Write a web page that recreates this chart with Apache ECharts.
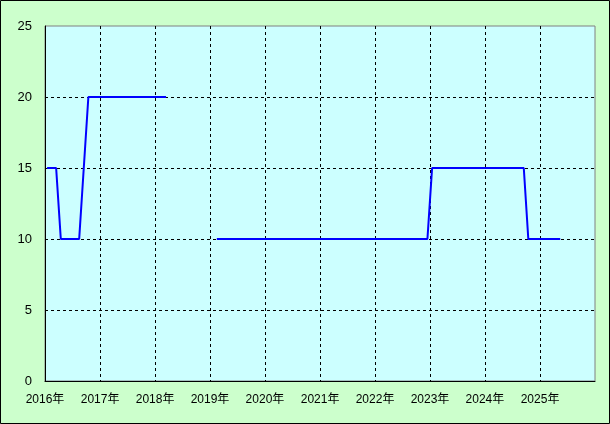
<!DOCTYPE html>
<html>
<head>
<meta charset="utf-8">
<script src="https://cdn.jsdelivr.net/npm/echarts@6/dist/echarts.min.js"></script>
<style>
html,body{margin:0;padding:0;background:#ccffcc;}
#chart{width:610px;height:424px;}
</style>
</head>
<body>
<div id="chart"></div>
<script>
// Data (monthly points, mid-month)
const dates  = ['2016-01-15','2016-03-15','2016-04-15','2016-08-15','2016-10-15','2018-03-15','2018-09-15','2019-02-15','2022-12-15','2023-01-15','2024-09-15','2024-10-15','2025-05-15'];
const values = [15, 15, 10, 10, 20, 20, null, 10, 10, 15, 15, 10, 10];
const yTicks = [0, 5, 10, 15, 20, 25];
const xStart = '2016-01-01';
const xEnd = '2026-01-01';
const yearSuffix = '年';

const chart = echarts.init(document.getElementById('chart'), null, {renderer: 'canvas'});
const seriesData = dates.map((d, i) => [d, values[i] === null ? '-' : values[i]]);
const YEAR = 365.25 * 24 * 3600 * 1000;

chart.setOption({
  backgroundColor: '#ccffcc',
  animation: false,
  grid: {
    left: 45, top: 26, right: 15, bottom: 43,
    show: true, backgroundColor: '#ccffff', borderColor: '#808080', borderWidth: 1
  },
  xAxis: {
    type: 'time',
    min: xStart, max: xEnd,
    minInterval: YEAR * 0.9, maxInterval: YEAR * 1.1,
    axisLine: {show: true, lineStyle: {color: '#000', width: 1}},
    axisTick: {show: false},
    axisLabel: {
      color: '#000', fontSize: 12, fontFamily: '"Liberation Sans", "Noto Sans CJK JP", sans-serif',
      margin: 13, showMaxLabel: false, hideOverlap: false,
      formatter: v => new Date(v).getFullYear() + yearSuffix
    },
    splitLine: {show: true, showMinLine: false, showMaxLine: false, lineStyle: {color: '#000', type: [3, 3], width: 1}}
  },
  yAxis: {
    type: 'value', min: yTicks[0], max: yTicks[yTicks.length - 1], interval: 5,
    axisLine: {show: true, lineStyle: {color: '#000', width: 1}},
    axisTick: {show: false},
    axisLabel: {color: '#000', fontSize: 13, fontFamily: '"Liberation Sans", sans-serif', margin: 13},
    splitLine: {show: true, showMinLine: false, showMaxLine: false, lineStyle: {color: '#000', type: [3, 3], width: 1}}
  },
  series: [{
    type: 'line',
    data: seriesData,
    symbol: 'none',
    connectNulls: false,
    lineStyle: {color: '#0000ff', width: 2},
    itemStyle: {color: '#0000ff'}
  }],
  graphic: [{
    type: 'rect', silent: true, z: 100,
    shape: {x: 0.5, y: 0.5, width: 609, height: 423},
    style: {fill: 'none', stroke: '#000', lineWidth: 1}
  }]
});
</script>
</body>
</html>
